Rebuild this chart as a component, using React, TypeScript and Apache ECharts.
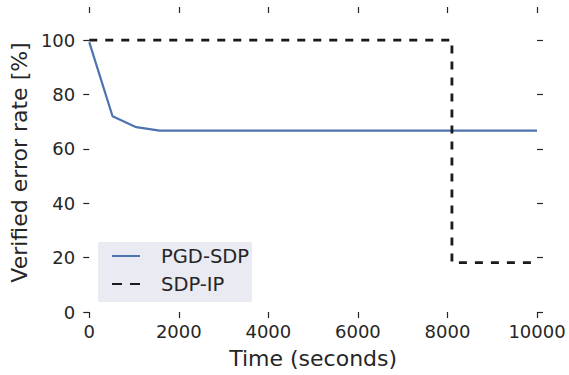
import React, { useEffect, useRef } from "react";
import * as echarts from "echarts";

const seriesNames = ["PGD-SDP", "SDP-IP"];
const pgdTime = [0, 520, 1050, 1570, 10000];
const pgdRate = [99.3, 72, 68, 66.7, 66.7];
const sdpTime = [0, 8100, 8100, 10000];
const sdpRate = [100, 100, 18.2, 18.2];
const yTicks = [0, 20, 40, 60, 80, 100];
const xTicks = [0, 2000, 4000, 6000, 8000, 10000];

const TEXT = "#262626";
const FONT = "DejaVu Sans";

export default function App() {
  const ref = useRef<HTMLDivElement>(null);
  useEffect(() => {
    if (!ref.current) return;
    const chart = echarts.init(ref.current, undefined, { renderer: "svg" });
    const tick = { show: true, inside: false, length: 6, lineStyle: { color: TEXT, width: 1.2 } };
    const hiddenLine = { show: false, onZero: false };
    chart.setOption({
      animation: false,
      backgroundColor: "#ffffff",
      textStyle: { fontFamily: FONT, color: TEXT },
      grid: { left: 89, right: 32, top: 13, bottom: 63, containLabel: false },
      legend: {
        left: 98,
        top: 242,
        orient: "vertical",
        backgroundColor: "#EAEAF2",
        borderWidth: 0,
        padding: [4, 3, 8, 13],
        itemWidth: 28,
        itemHeight: 14,
        itemGap: 8,
        itemStyle: { opacity: 0 },
        textStyle: { fontFamily: FONT, fontSize: 19.5, color: TEXT, lineHeight: 20, padding: [0, 0, 0, 16] },
        data: [
          { name: seriesNames[0] },
          { name: seriesNames[1], lineStyle: { type: [10, 8] } },
        ],
      },
      xAxis: [
        {
          type: "value",
          min: 0,
          max: 10000,
          interval: 2000,
          position: "bottom",
          name: "Time (seconds)",
          nameLocation: "middle",
          nameGap: 35,
          nameTextStyle: { fontFamily: FONT, fontSize: 22, color: TEXT },
          axisLine: hiddenLine,
          axisTick: { ...tick, customValues: xTicks },
          splitLine: { show: false },
          axisLabel: {
            fontFamily: FONT,
            fontSize: 18,
            color: TEXT,
            margin: 10,
            customValues: xTicks,
            formatter: (v: number) => String(v),
          },
        },
        {
          type: "value",
          min: 0,
          max: 10000,
          interval: 2000,
          position: "top",
          axisLine: hiddenLine,
          axisTick: { ...tick, customValues: xTicks },
          splitLine: { show: false },
          axisLabel: { show: false },
        },
      ],
      yAxis: [
        {
          type: "value",
          min: 0,
          max: 110,
          position: "left",
          name: "Verified error rate [%]",
          nameLocation: "middle",
          nameGap: 59,
          nameTextStyle: { fontFamily: FONT, fontSize: 22, color: TEXT },
          axisLine: hiddenLine,
          axisTick: { ...tick, customValues: yTicks },
          splitLine: { show: false },
          axisLabel: { fontFamily: FONT, fontSize: 18, color: TEXT, margin: 14, customValues: yTicks },
        },
        {
          type: "value",
          min: 0,
          max: 110,
          position: "right",
          axisLine: hiddenLine,
          axisTick: { ...tick, customValues: yTicks },
          splitLine: { show: false },
          axisLabel: { show: false, customValues: yTicks },
        },
      ],
      series: [
        {
          name: seriesNames[0],
          type: "line",
          symbol: "none",
          data: pgdTime.map((t, i) => [t, pgdRate[i]]),
          lineStyle: { color: "#4C72B0", width: 2.2 },
          itemStyle: { color: "#4C72B0" },
          clip: false,
        },
        {
          name: seriesNames[1],
          type: "line",
          symbol: "none",
          data: sdpTime.map((t, i) => [t, sdpRate[i]]),
          lineStyle: { color: "#1a1a1a", width: 2.8, type: [8, 8], cap: "butt" },
          itemStyle: { color: "#1a1a1a" },
          clip: false,
        },
      ],
    });
    return () => chart.dispose();
  }, []);
  return <div ref={ref} style={{ position: "fixed", left: 0, top: 0, width: 569, height: 375 }} />;
}
